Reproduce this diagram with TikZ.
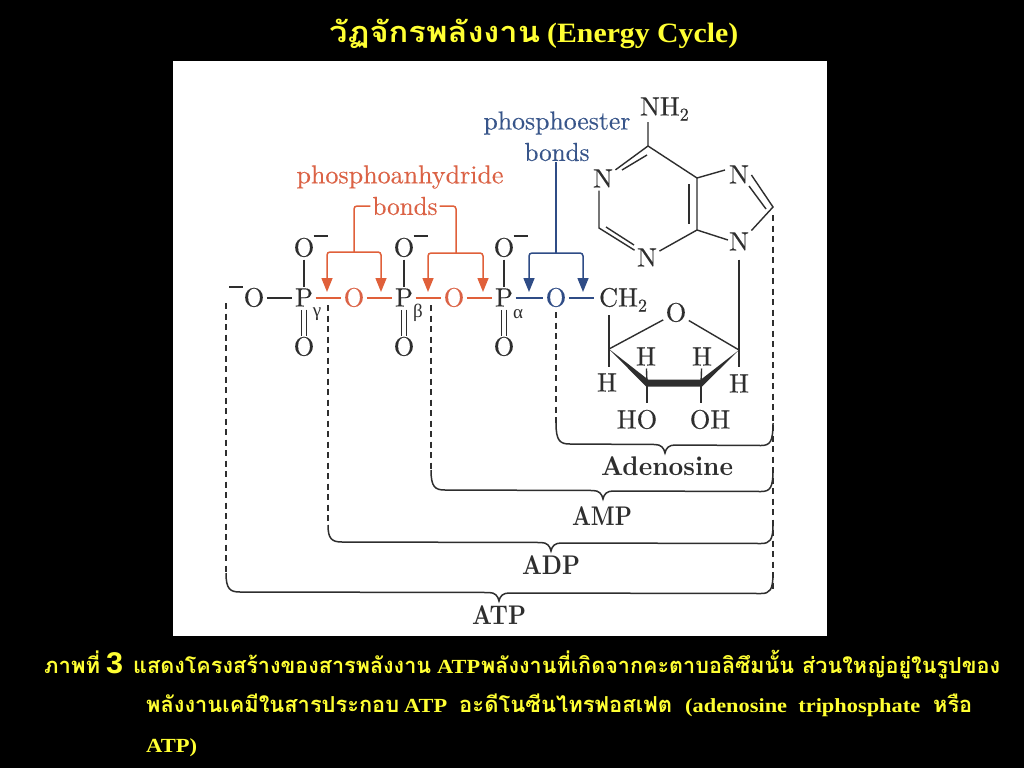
\documentclass[tikz,border=0pt]{standalone}
\usepackage{fontspec}
\usepackage{graphicx}
\usetikzlibrary{arrows.meta}
\newfontfamily\thaifont[Script=Thai]{Loma}
\newfontfamily\latinser{Liberation Serif}
\newfontfamily\latinsans{Liberation Sans}
\newfontfamily\mol{lmroman10-regular.otf}[FakeBold=0.25]
\newfontfamily\molb{lmroman10-bold.otf}
\definecolor{ink}{HTML}{2E2E2E}
\definecolor{redb}{HTML}{E0603A}
\definecolor{redt}{HTML}{DB6245}
\definecolor{blueb}{HTML}{2F4C86}
\definecolor{bluet}{HTML}{38558A}
\definecolor{ylw}{HTML}{FFFF33}
\newcommand{\fitw}[2]{\resizebox{#1pt}{\height}{#2}}
\newcommand{\thr}[3][22]{\fitw{#2}{\fontsize{#1}{#1}\selectfont\thaifont\bfseries #3}}
\newcommand{\ltn}[3][20]{\fitw{#2}{\fontsize{#1}{#1}\selectfont\latinser\bfseries #3}}
\newcommand{\subtwo}{\raisebox{-5pt}{\fontsize{18}{18}\selectfont 2}}
\tikzset{
 atom/.style={inner xsep=2.5pt,inner ysep=3pt,outer sep=0pt,text=ink,font=\fontsize{26.5}{26.5}\mol,text height=17pt,text depth=0pt},
 redatom/.style={atom,text=redt},
 blueatom/.style={atom,text=blueb},
 small/.style={inner sep=0pt,text=ink,font=\fontsize{19}{19}\selectfont\latinser},
 minus/.style={inner sep=0pt,text=ink},
 bond/.style={draw=ink,line width=1.4pt},
 redbond/.style={draw=redb,line width=1.5pt},
 bluebond/.style={draw=blueb,line width=1.5pt},
 redarrow/.style={redbond,-{Triangle[length=14pt,width=11pt,fill=redb]}},
 bluearrow/.style={bluebond,-{Triangle[length=14pt,width=11pt,fill=blueb]}},
 dash line/.style={draw=ink,line width=1.5pt,dash pattern=on 6pt off 4.5pt},
 brace line/.style={draw=ink,line width=1.5pt},
 redlabel/.style={inner sep=0pt,text=redt},
 bluelabel/.style={inner sep=0pt,text=bluet},
 boldlabel/.style={inner sep=0pt,text=ink,font=\fontsize{27}{27}\molb},
 ytext/.style={anchor=base west,inner sep=0pt,text=ylw},
}
\newcommand{\lab}[2]{\fitw{#1}{\fontsize{26}{26}\mol #2}}
% brace: left x, right x, tip x, hook top y, bar y
\newcommand{\hbrace}[5]{%
 \draw[brace line] (#1,#4) .. controls (#1,#5-3) and (#1+4,#5) .. (#1+14,#5)
   -- (#3-10,#5+0.5) .. controls (#3-4,#5+0.5) and (#3-1,#5+4) .. (#3,#5+9)
   .. controls (#3+1,#5+4) and (#3+4,#5+1) .. (#3+10,#5+1)
   -- (#2-12,#5+1.5) .. controls (#2-3,#5+1.5) and (#2,#5-2) .. (#2,#4);}
\begin{document}
\begin{tikzpicture}[x=1pt,y=-1pt]
\useasboundingbox (0,0) rectangle (1024,768);
\fill[black] (0,0) rectangle (1024,768);
\fill[white] (173,61) rectangle (827,636);

% title
\node[ytext] (t1) at (329,43) {\thr[29]{211}{วัฏจักรพลังงาน}};
\node[ytext] (t2) at (547,43) {\ltn[28]{191}{(Energy Cycle)}};

% caption
\node[ytext] (c1) at (44,673) {\thr{56}{ภาพที่}};
\node[ytext] (c2) at (106,673) {\fitw{17}{\fontsize{30}{30}\selectfont\latinsans\bfseries 3}};
\node[ytext] (c3) at (133,673) {\thr{298}{แสดงโครงสร้างของสารพลังงาน}};
\node[ytext] (c4) at (437,673) {\ltn{43}{ATP}};
\node[ytext] (c5) at (481,673) {\thr{313}{พลังงานที่เกิดจากคะตาบอลิซึมนั้น}};
\node[ytext] (c6) at (802,673) {\thr{198}{ส่วนใหญ่อยู่ในรูปของ}};
\node[ytext] (c7) at (146,712) {\thr{253}{พลังงานเคมีในสารประกอบ}};
\node[ytext] (c8) at (404,712) {\ltn{43}{ATP}};
\node[ytext] (c9) at (459,712) {\thr{213}{อะดีโนซีนไทรฟอสเฟต}};
\node[ytext] (c10) at (685,712) {\ltn{235}{(adenosine\hspace{0.5em}triphosphate}};
\node[ytext] (c11) at (933,712) {\thr{39}{หรือ}};
\node[ytext] (c12) at (146,752) {\ltn{51}{ATP)}};

% phosphate chain atoms
\node[atom] (Ol) at (254,298) {O};
\node[minus] (ml) at (236,287) {\rule{14pt}{1.7pt}};
\node[atom] (Pg) at (304,298) {P};
\node[atom] (Ogt) at (304,248) {O};
\node[atom] (Ogb) at (304,347) {O};
\node[atom] (Pb) at (404,298) {P};
\node[atom] (Obt) at (404,248) {O};
\node[atom] (Obb) at (404,347) {O};
\node[atom] (Pa) at (504,298) {P};
\node[atom] (Oat) at (504,248) {O};
\node[atom] (Oab) at (504,347) {O};
\node[redatom] (O1) at (354,298) {O};
\node[redatom] (O2) at (454,298) {O};
\node[blueatom] (O3) at (556,298) {O};
\node[atom,anchor=west,inner xsep=0pt] (CH) at (599,298) {CH\subtwo};
\node[minus] (mg) at (320.5,236) {\rule{14pt}{1.7pt}};
\node[minus] (mb) at (420.5,236) {\rule{14pt}{1.7pt}};
\node[minus] (ma) at (520.5,236) {\rule{14pt}{1.7pt}};
\node[small] (gam) at (317,314) {γ};
\node[small] (bet) at (418,313) {β};
\node[small] (alp) at (518,314) {α};

% chain bonds
\draw[bond] (Ol) -- (Pg);
\draw[redbond] (Pg) -- (O1);
\draw[redbond] (O1) -- (Pb);
\draw[redbond] (Pb) -- (O2);
\draw[redbond] (O2) -- (Pa);
\draw[bluebond] (Pa) -- (O3);
\draw[bluebond,shorten >=5pt] (O3) -- (CH);
\draw[bond] (Ogt) -- (Pg);
\draw[bond] (Obt) -- (Pb);
\draw[bond] (Oat) -- (Pa);
\draw[bond,double,double distance=3.6pt] (Pg) -- (Ogb);
\draw[bond,double,double distance=3.6pt] (Pb) -- (Obb);
\draw[bond,double,double distance=3.6pt] (Pa) -- (Oab);

% labels and arrows
\node[redlabel] (anh) at (400,177) {\lab{207}{phosphoanhydride}};
\node[redlabel,inner xsep=2pt] (rb) at (405,206) {\lab{65}{bonds}};
\node[bluelabel] (est) at (557,123) {\lab{147}{phosphoester}};
\node[bluelabel] (eb) at (557,152) {\lab{65}{bonds}};

\coordinate (rl1) at (354,252);
\coordinate (rr1) at (456,253);
\coordinate (a1) at (327,292); \coordinate (a2) at (381,292);
\coordinate (a3) at (428,292); \coordinate (a4) at (483,292);
\coordinate (bb) at (556,253);
\coordinate (a5) at (529,292); \coordinate (a6) at (583,292);
\draw[redbond,rounded corners=3pt] (rb.west) -| (rl1);
\draw[redbond,rounded corners=3pt] (rb.east) -| (rr1);
\draw[redarrow,rounded corners=3pt] (rl1) -| (a1);
\draw[redarrow,rounded corners=3pt] (rl1) -| (a2);
\draw[redarrow,rounded corners=3pt] (rr1) -| (a3);
\draw[redarrow,rounded corners=3pt] (rr1) -| (a4);
\draw[bluebond] (eb.south -| bb) ++(0,1) -- (bb);
\draw[bluearrow,rounded corners=3pt] (bb) -| (a5);
\draw[bluearrow,rounded corners=3pt] (bb) -| (a6);

% adenine
\node[atom,anchor=west,inner xsep=0pt] (NH) at (640,107) {NH\subtwo};
\node[atom] (N1) at (603,179) {N};
\node[atom] (N3) at (647,258) {N};
\node[atom] (N7) at (739,175) {N};
\node[atom] (N9) at (739,242) {N};
\coordinate (C6) at (648,146);
\coordinate (C5) at (697,178);
\coordinate (C4) at (697,230);
\coordinate (C2) at (599,228);
\coordinate (C8) at (773,207);
\coordinate (NHb) at (648,122);
\coordinate (N7w) at (725,170);
\coordinate (N9w) at (728,240);
\draw[bond] (NHb) -- (C6) -- (C5) -- (C4);
\draw[bond] (C6) -- (N1);
\draw[bond] (N1.south -| C2) -- (C2) -- (N3);
\draw[bond] (C4) -- (N3);
\draw[bond] (C5) -- (N7w);
\draw[bond] (C4) -- (N9w);
\draw[bond] (N7.east) -- (C8) -- (N9.north east);
\coordinate (d1a) at (647,155); \coordinate (d1b) at (622,170);
\coordinate (d2a) at (689,184); \coordinate (d2b) at (689,224);
\coordinate (d3a) at (749,186); \coordinate (d3b) at (766,209);
\coordinate (d4a) at (606,227); \coordinate (d4b) at (634,245);
\draw[bond] (d1a) -- (d1b);
\draw[bond] (d2a) -- (d2b);
\draw[bond] (d3a) -- (d3b);
\draw[bond] (d4a) -- (d4b);

% ribose
\node[atom] (Or) at (676,313) {O};
\node[atom] (H4) at (607,383) {H};
\node[atom] (H1) at (739,384) {H};
\node[atom] (H3) at (646,357) {H};
\node[atom] (H2) at (702,357) {H};
\node[atom] (HO) at (637,420) {HO};
\node[atom] (OH) at (710,420) {OH};
\coordinate (C4r) at (609,349);
\coordinate (C3r) at (647,383);
\coordinate (C2r) at (701,383);
\coordinate (C1r) at (739,350);
\coordinate (CHb) at (609,315);
\coordinate (Hb4) at (609,367);
\coordinate (Hb1) at (739,367);
\draw[bond] (CHb) -- (Hb4);
\draw[bond] (N9.south) ++(0,6) -- (Hb1);
\draw[bond] (C4r) -- (Or);
\draw[bond] (Or) -- (C1r);
\fill[ink] (C4r) -- (646,386.5) -- (702,386.5) -- (C1r) -- (701,379.5) -- (648,379.5) -- cycle;
\draw[bond] (H3) -- (C3r);
\draw[bond] (H2) -- (C2r);
\coordinate (Hh) at (647,403); \coordinate (Oh) at (701,403);
\draw[bond] (C3r) -- (Hh);
\draw[bond] (C2r) -- (Oh);

% dashed guide lines
\coordinate (dR1) at (773,215); \coordinate (dR2) at (773,590);
\coordinate (dA1) at (226,303); \coordinate (dA2) at (226,573);
\coordinate (dB1) at (328,305); \coordinate (dB2) at (328,525);
\coordinate (dC1) at (431,305); \coordinate (dC2) at (431,470);
\coordinate (dD1) at (556,312); \coordinate (dD2) at (556,423);
\draw[dash line] (dR1) -- (dR2);
\draw[dash line] (dA1) -- (dA2);
\draw[dash line] (dB1) -- (dB2);
\draw[dash line] (dC1) -- (dC2);
\draw[dash line] (dD1) -- (dD2);

% braces
\hbrace{556}{773}{665}{423}{444}
\hbrace{431}{773}{603}{470}{490}
\hbrace{328}{773}{551}{525}{542}
\hbrace{226}{773}{499}{573}{592}
\node[boldlabel] (Ade) at (667,466) {\fitw{132}{Adenosine}};
\node[boldlabel] (AMP) at (602,516) {\fitw{60}{AMP}};
\node[boldlabel] (ADP) at (551,565) {\fitw{58}{ADP}};
\node[boldlabel] (ATP) at (499,615) {\fitw{54}{ATP}};
\end{tikzpicture}
\end{document}
